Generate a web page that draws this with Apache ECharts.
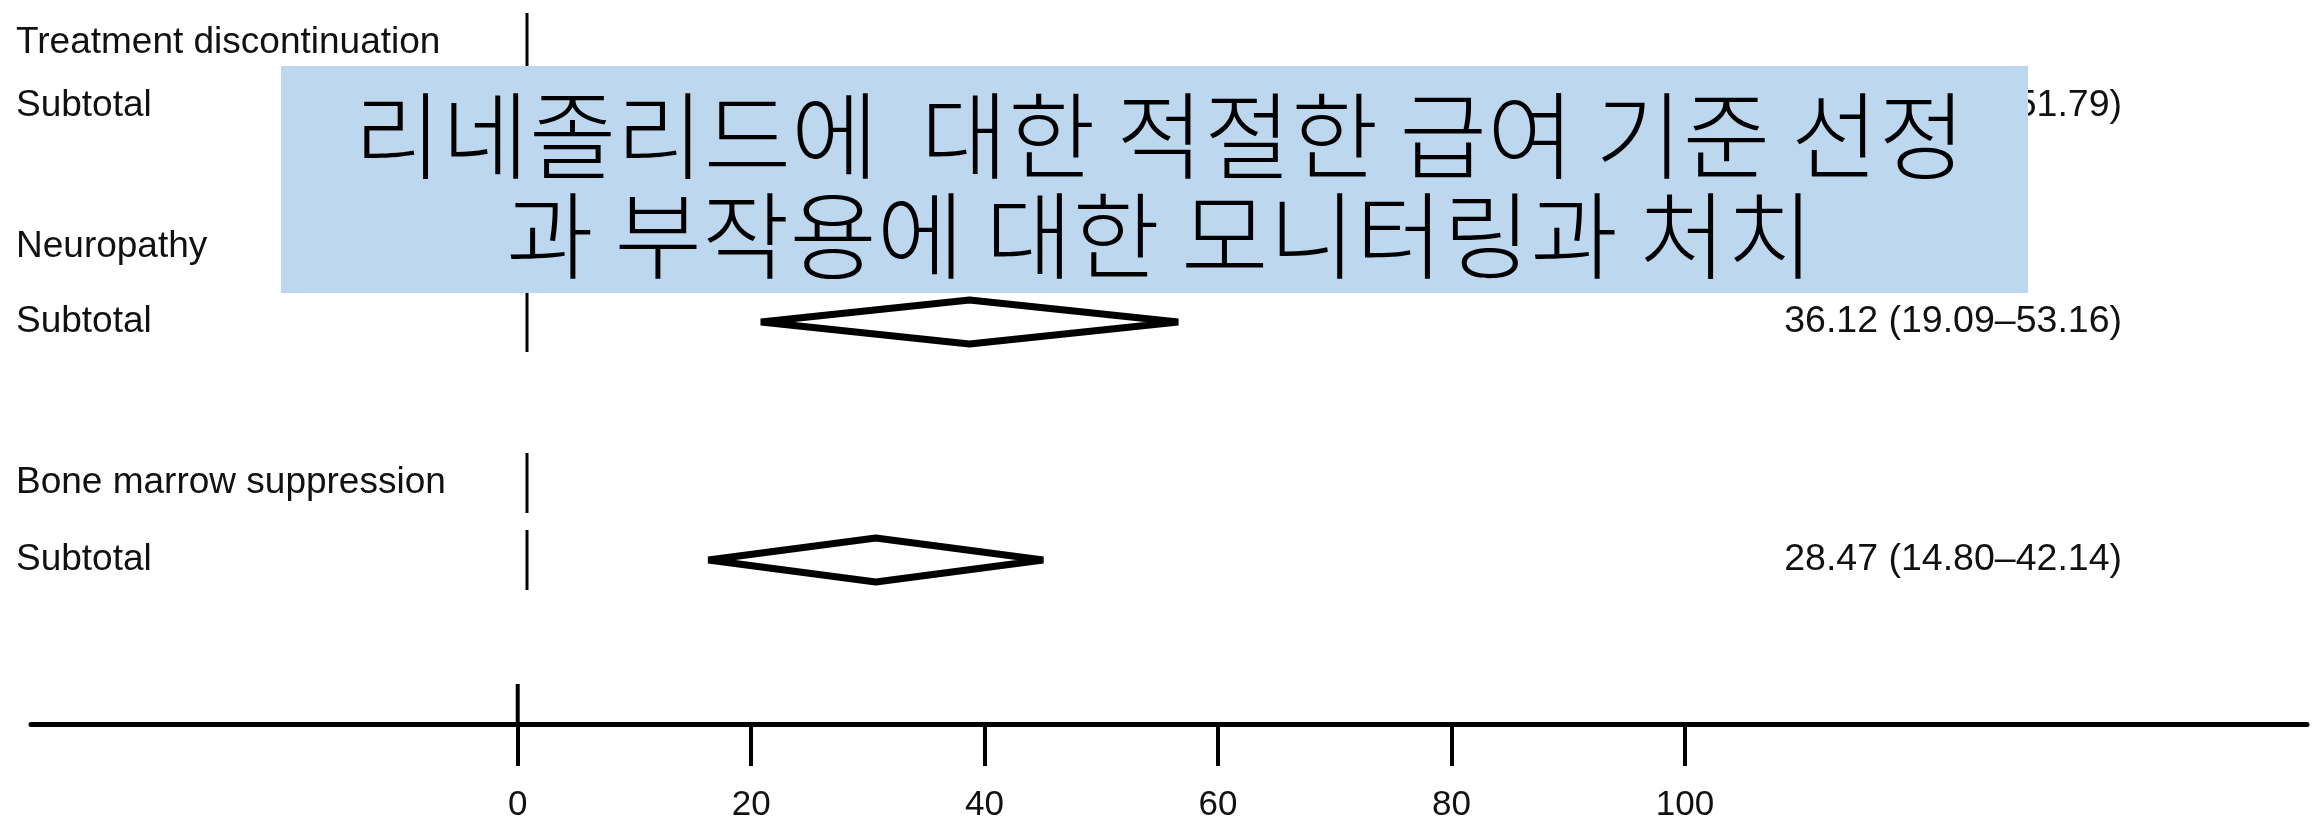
<!DOCTYPE html>
<html>
<head>
<meta charset="utf-8">
<title>Forest plot – subtotals</title>
<script src="https://cdn.jsdelivr.net/npm/echarts@6/dist/echarts.min.js"></script>
<style>
  html, body { margin: 0; padding: 0; background: #fff; }
  #chart { width: 2316px; height: 826px; }
</style>
</head>
<body>
<div id="chart"></div>
<script>
// Outcome groups and their pooled subtotal estimates (%, 95% CI)
const outcomes = ['Treatment discontinuation', 'Neuropathy', 'Bone marrow suppression'];
const subtotalLabel = 'Subtotal';
const pooledEstimate = [null, 36.12, 28.47];
const ciLower = [null, 19.09, 14.80];
const ciUpper = [51.79, 53.16, 42.14];

// Bottom axis ticks
const xTicks = [0, 20, 40, 60, 80, 100];

// Callout text
const noteLines = ['리네졸리드에  대한 적절한 급여 기준 선정', '과 부작용에 대한 모니터링과 처치'];

const LATIN = '"Liberation Sans", Arial, sans-serif';
const INK = '#111';

const fmt = v => v.toFixed(2);
function ciText(g) {
  if (pooledEstimate[g] == null) return fmt(ciUpper[g]) + ')';
  return fmt(pooledEstimate[g]) + ' (' + fmt(ciLower[g]) + '–' + fmt(ciUpper[g]) + ')';
}

// one grid per outcome group: header row + subtotal row
const groupGrids = [
  { top: 11.5, height: 126 },
  { top: 209.5, height: 150 },
  { top: 444.5, height: 154 }
];

function renderRow(params, api) {
  const row = api.value(1);
  const g = api.value(2);
  const base = api.coord([0, row]);
  const x0 = base[0], yc = base[1];
  const children = [{
    type: 'line',
    shape: { x1: x0, y1: yc - 30, x2: x0, y2: yc + 30 },
    style: { stroke: '#000', lineWidth: 3 }
  }];
  if (row === 1) {
    if (pooledEstimate[g] != null) {
      const pl = api.coord([ciLower[g], row])[0];
      const pe = api.coord([pooledEstimate[g], row])[0];
      const ph = api.coord([ciUpper[g], row])[0];
      children.push({
        type: 'polygon',
        shape: { points: [[pl, yc], [pe, yc - 22], [ph, yc], [pe, yc + 22]] },
        style: { fill: '#fff', stroke: '#000', lineWidth: 7, lineJoin: 'bevel' }
      });
    }
    children.push({
      type: 'text',
      style: {
        text: ciText(g), x: 2122, y: yc,
        align: 'right', verticalAlign: 'middle',
        fontSize: 37.5, fontFamily: LATIN, fill: INK
      }
    });
  }
  return { type: 'group', children };
}

const grids = [], xAxes = [], yAxes = [], series = [];
outcomes.forEach((name, g) => {
  grids.push({ left: 37, right: 74, top: groupGrids[g].top, height: groupGrids[g].height });
  xAxes.push({ type: 'value', gridIndex: g, min: -40, max: 140, show: false });
  yAxes.push({
    type: 'category', gridIndex: g, inverse: true,
    data: [name, subtotalLabel],
    axisLine: { show: false }, axisTick: { show: false }, splitLine: { show: false },
    axisLabel: { align: 'left', margin: 21, fontSize: 37, fontFamily: LATIN, color: INK }
  });
  series.push({
    type: 'custom', xAxisIndex: g, yAxisIndex: g,
    encode: { x: 0, y: 1 },
    data: [[0, 0, g], [0, 1, g]],
    renderItem: renderRow,
    silent: true, z: 2
  });
});

// bottom scale
grids.push({ left: 31, right: 9, top: 684, height: 40 });
xAxes.push({
  type: 'value', gridIndex: 3, min: -41.7, max: 153.3,
  splitLine: { show: false },
  axisLine: { lineStyle: { color: '#000', width: 5 } },
  axisTick: { customValues: xTicks, length: 42, lineStyle: { color: '#000', width: 4 } },
  axisLabel: { customValues: xTicks, margin: 64, fontSize: 35, fontFamily: LATIN, color: INK }
});
yAxes.push({ type: 'value', gridIndex: 3, min: 0, max: 1, show: false });
series.push({
  type: 'line', xAxisIndex: 3, yAxisIndex: 3,
  data: [[xTicks[0], 0], [xTicks[0], 1]],
  symbol: 'none', silent: true,
  lineStyle: { color: '#000', width: 4 }
});

const chart = echarts.init(document.getElementById('chart'), null, { renderer: 'canvas' });
chart.setOption({
  animation: false,
  backgroundColor: '#fff',
  grid: grids,
  xAxis: xAxes,
  yAxis: yAxes,
  series: series,
  graphic: [
    { type: 'rect', z: 100, silent: true,
      shape: { x: 281, y: 66, width: 1747, height: 227 },
      style: { fill: '#BDD7EE' } },
    { type: 'text', z: 101, silent: true, x: 1160, y: 186,
      style: { text: noteLines.join('\n'), align: 'center', verticalAlign: 'middle',
               fontSize: 95, fontWeight: 300, lineHeight: 100,
               fontFamily: '"Noto Sans CJK KR", sans-serif', fill: '#000' } }
  ]
});
</script>
</body>
</html>
